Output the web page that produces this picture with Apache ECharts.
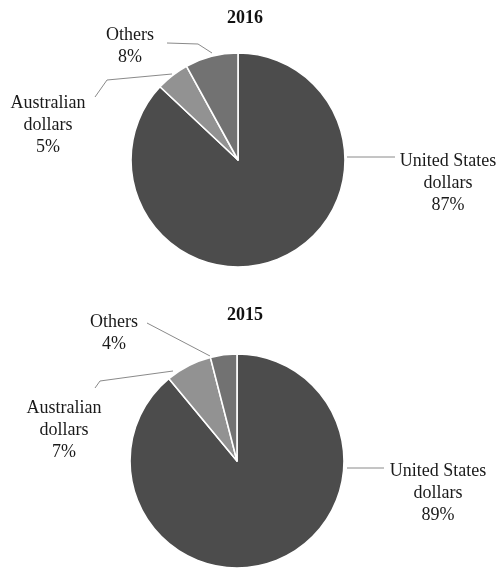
<!DOCTYPE html>
<html>
<head>
<meta charset="utf-8">
<script src="https://cdn.jsdelivr.net/npm/echarts@6/dist/echarts.min.js"></script>
<style>
  html, body { margin: 0; padding: 0; background: #fff; }
  #main { width: 498px; height: 571px; }
</style>
</head>
<body>
<div id="main"></div>
<script>
// data
var years = ['2016', '2015'];
var categories = ['United States\ndollars', 'Australian\ndollars', 'Others'];
var values2016 = [87, 5, 8];
var values2015 = [89, 7, 4];
var sliceColors = ['#4c4c4c', '#929292', '#727272'];

// where each label sits and how its line runs, per chart [US, Aus, Others]
var labelSpots = [
    [
        { x: 448, y: 183, line: [[347, 157], [395, 157]] },
        { x: 48, y: 125, line: [[172, 74], [107, 80], [95, 97]] },
        { x: 130, y: 46, line: [[212, 53], [198, 44], [167, 43]] }
    ],
    [
        { x: 438, y: 493, line: [[347, 468], [384, 468]] },
        { x: 64, y: 430, line: [[173, 371], [100, 381], [95, 388]] },
        { x: 114, y: 333, line: [[210, 356], [147, 323]] }
    ]
];

var serif = '"Liberation Serif", "DejaVu Serif", serif';

function makeData(vals) {
    return categories.map(function (name, i) {
        return { name: name, value: vals[i], itemStyle: { color: sliceColors[i] } };
    });
}

function makePie(vals, center) {
    return {
        type: 'pie',
        center: center,
        radius: 107,
        startAngle: 90,
        clockwise: true,
        avoidLabelOverlap: false,
        silent: true,
        itemStyle: { borderColor: '#ffffff', borderWidth: 1.6 },
        label: {
            show: true,
            position: 'outside',
            formatter: '{b}\n{c}%',
            fontFamily: serif,
            fontSize: 18,
            lineHeight: 22,
            color: '#1a1a1a'
        },
        labelLine: {
            show: true,
            lineStyle: { color: '#8a8a8a', width: 1 }
        },
        labelLayout: function (params) {
            var s = labelSpots[params.seriesIndex][params.dataIndex];
            return {
                x: s.x,
                y: s.y,
                align: 'center',
                verticalAlign: 'middle',
                labelLinePoints: s.line
            };
        },
        data: makeData(vals)
    };
}

var myChart = echarts.init(document.getElementById('main'), null, { renderer: 'canvas' });
var option = {
    backgroundColor: '#ffffff',
    animation: false,
    title: [
        {
            text: years[0], left: 240, top: 4, textAlign: 'center',
            textStyle: { fontFamily: serif, fontSize: 18, fontWeight: 'bold', color: '#111' }
        },
        {
            text: years[1], left: 240, top: 301, textAlign: 'center',
            textStyle: { fontFamily: serif, fontSize: 18, fontWeight: 'bold', color: '#111' }
        }
    ],
    series: [
        makePie(values2016, [238, 160]),
        makePie(values2015, [237, 461])
    ]
};
myChart.setOption(option);
</script>
</body>
</html>
